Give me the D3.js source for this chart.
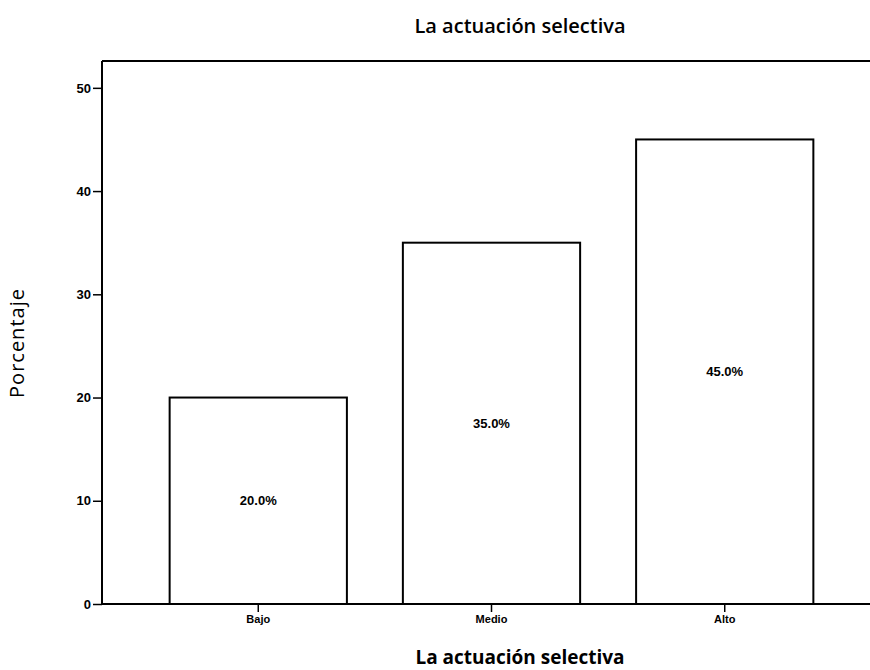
<!DOCTYPE html>
<html>
<head>
<meta charset="utf-8">
<style>
  body { margin: 0; background: #fff; }
  svg { display: block; }
</style>
</head>
<body>
<svg width="870" height="670"></svg>
<script src="https://d3js.org/d3.v7.min.js"></script>
<script>

var categories = ["Bajo", "Medio", "Alto"],
    values = [20, 35, 45],
    yTicks = [0, 10, 20, 30, 40, 50];

var svg = d3.select("svg"),
    plotLeft = 102, plotRight = 881, plotTop = 61, plotBottom = 604,
    titleX = 520;

var x = d3.scaleBand()
    .domain(categories)
    .range([plotLeft, plotRight])
    .paddingInner(0.24)
    .paddingOuter(0.29);

var y = d3.scaleLinear()
    .domain([0, 52.6])
    .range([plotBottom, plotTop]);

// frame: top line (the right edge runs off the page)
svg.append("line")
    .attr("x1", plotLeft).attr("x2", 870)
    .attr("y1", plotTop).attr("y2", plotTop)
    .attr("stroke", "#000").attr("stroke-width", 2);

svg.append("g")
    .attr("fill", "#fff")
    .attr("stroke", "#000")
    .attr("stroke-width", 2)
  .selectAll("rect")
  .data(values)
  .enter().append("rect")
    .attr("x", function(d, i) { return x(categories[i]); })
    .attr("y", function(d) { return y(d); })
    .attr("width", x.bandwidth())
    .attr("height", function(d) { return y(0) - y(d); });

svg.append("g")
    .attr("font-family", "Liberation Sans, Arial, sans-serif")
    .attr("font-size", 13)
    .attr("font-weight", "bold")
    .attr("text-anchor", "middle")
  .selectAll("text")
  .data(values)
  .enter().append("text")
    .attr("x", function(d, i) { return x(categories[i]) + x.bandwidth() / 2; })
    .attr("y", function(d) { return (y(d) + y(0)) / 2; })
    .attr("dy", "0.35em")
    .text(function(d) { return d.toFixed(1) + "%"; });

var yAxis = svg.append("g")
    .attr("transform", "translate(" + plotLeft + ",0)")
    .call(d3.axisLeft(y).tickValues(yTicks).tickSize(9).tickPadding(2).tickSizeOuter(0));

var xAxis = svg.append("g")
    .attr("transform", "translate(0," + plotBottom + ")")
    .call(d3.axisBottom(x).tickSize(8).tickPadding(3).tickSizeOuter(0));

[yAxis, xAxis].forEach(function(a) {
  a.select(".domain").attr("stroke-width", 2);
  a.selectAll(".tick line").attr("stroke-width", 1.5);
  a.selectAll("text")
      .attr("font-family", "Liberation Sans, Arial, sans-serif")
      .attr("font-weight", "bold");
});
yAxis.selectAll("text").attr("font-size", 13);
xAxis.selectAll("text").attr("font-size", 11);
xAxis.select(".domain").attr("d", "M" + plotLeft + ",0H870");
yAxis.select(".domain").attr("d", "M0," + plotTop + "V" + plotBottom);

svg.append("text")
    .attr("x", titleX)
    .attr("y", 33)
    .attr("text-anchor", "middle")
    .attr("font-family", "Open Sans, sans-serif")
    .attr("font-size", 20)
    .attr("font-weight", 600)
    .text("La actuación selectiva");

svg.append("text")
    .attr("x", titleX)
    .attr("y", 664)
    .attr("text-anchor", "middle")
    .attr("font-family", "Open Sans, sans-serif")
    .attr("font-size", 19)
    .attr("font-weight", 700)
    .text("La actuación selectiva");

svg.append("text")
    .attr("transform", "translate(24,343) rotate(-90)")
    .attr("text-anchor", "middle")
    .attr("font-family", "Open Sans, sans-serif")
    .attr("font-size", 20)
    .attr("letter-spacing", 1)
    .text("Porcentaje");

</script>
</body>
</html>
